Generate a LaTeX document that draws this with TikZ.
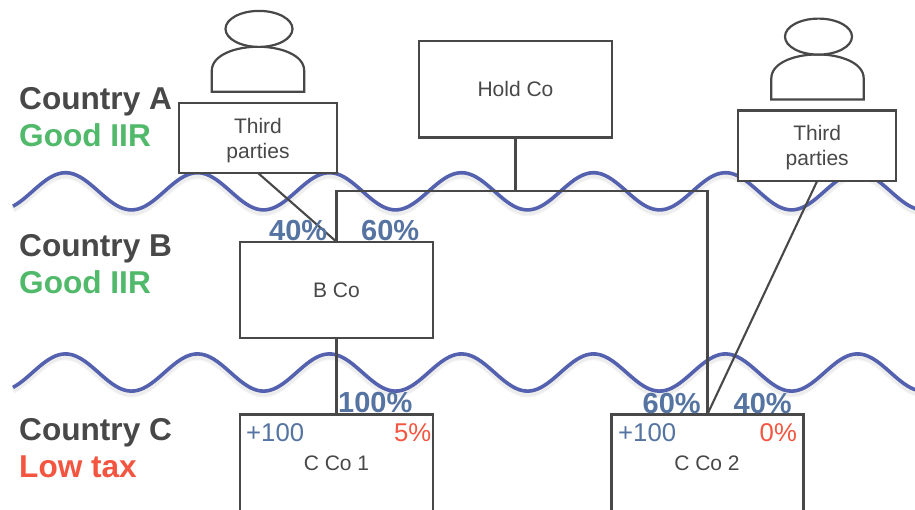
\documentclass[tikz,border=0pt]{standalone}
\usepackage{fontspec}
\setmainfont{Liberation Sans}
\definecolor{ink}{HTML}{484848}
\definecolor{wave}{HTML}{5361AE}
\definecolor{pct}{HTML}{5674A2}
\definecolor{good}{HTML}{50B96A}
\definecolor{low}{HTML}{F45540}
\tikzset{
  boxnode/.style={draw=ink,line width=2.4pt,fill=white,inner sep=0pt,outer sep=0pt,
    text=ink,align=center,text depth=0pt,font=\fontsize{21}{25}\selectfont},
  conn/.style={draw=ink,line width=2.6pt},
  thin conn/.style={draw=ink,line width=2.1pt},
  wavy/.style={draw=wave,line width=3.6pt},
  waveshadow/.style={draw=black,opacity=.035},
  region/.style={anchor=base west,inner sep=0pt,font=\bfseries\fontsize{31.6}{36}\selectfont},
  share/.style={anchor=base west,inner sep=0pt,text=pct,font=\bfseries\fontsize{29}{32}\selectfont},
  amount/.style={anchor=base west,inner sep=0pt,font=\fontsize{25.7}{30}\selectfont},
  cname/.style={anchor=base,inner sep=0pt,text=ink,font=\fontsize{21}{25}\selectfont},
  person/.pic={
    \draw[draw=ink,line width=2.2pt,fill=white] (-46.2,45) -- (-46.2,24) .. controls (-46.2,8) and (-22,0) .. (0,0)
      .. controls (22,0) and (46.2,8) .. (46.2,24) -- (46.2,45) -- cycle;
    \draw[draw=ink,line width=2.2pt,fill=white] (1,-17.8) ellipse [x radius=33.5,y radius=18];
  }
}
\newcommand{\wavepath}[2]{%
  \draw[#2] plot[domain=13:920,samples=300,smooth] (\x,{#1-18.6*cos((\x-65.5)/132*360)});}
\begin{document}
\begin{tikzpicture}[x=1pt,y=-1pt]
\useasboundingbox (0,0) rectangle (915,509);
\clip (0,0) rectangle (915,509);
\fill[white] (0,0) rectangle (915,509);
% waves
\foreach \c in {191.3,372.5}{
  \wavepath{\c+3}{waveshadow,line width=7pt}
  \wavepath{\c+3}{waveshadow,line width=5pt}
  \wavepath{\c}{wavy}
}
% people
\pic at (258,46.7) {person};
\pic at (817.5,54.4) {person};
% boxes
\node[boxnode,minimum width=158pt,minimum height=70pt] (t1) at (258,138) {Third\\parties};
\node[boxnode,minimum width=158pt,minimum height=70.5pt] (t2) at (817.2,145.7) {Third\\parties};
\node[boxnode,minimum width=193pt,minimum height=96.5pt] (h) at (515.5,89.3) {Hold Co};
\node[boxnode,minimum width=193pt,minimum height=96.5pt] (b) at (336.5,290) {B Co};
\node[boxnode,minimum width=193pt,minimum height=130pt] (c1) at (336.5,479.5) {};
\node[boxnode,minimum width=192pt,minimum height=130pt] (c2) at (707.3,479.5) {};
% connectors
\coordinate (j) at (h.south |- 0,191);
\draw[conn] (h.south) -- (j);
\draw[conn] (j) -| (b.north);
\draw[conn] (j) -| (c2.north);
\draw[conn] (b.south) -- (c1.north);
\draw[thin conn] (t1.south) -- (b.north);
\draw[thin conn] (t2.south) -- (c2.north);
% region labels
\node[region,text=ink] (ca) at (19,109.3) {Country A};
\node[region,text=good] (ga) at (19,146) {Good IIR};
\node[region,text=ink] (cb) at (19,256.5) {Country B};
\node[region,text=good] (gb) at (19,293.7) {Good IIR};
\node[region,text=ink] (cc) at (19,440.3) {Country C};
\node[region,text=low] (lc) at (19,477.3) {Low tax};
% shares
\node[share] (s1) at (269,240) {40\%};
\node[share] (s2) at (361,240) {60\%};
\node[share] (s3) at (338,412) {100\%};
\node[share] (s4) at (642.5,413) {60\%};
\node[share] (s5) at (733.5,413) {40\%};
% amounts
\node[amount,text=pct] (a1) at (246,441.5) {+100};
\node[amount,text=low] (r1) at (394,441.5) {5\%};
\node[amount,text=pct] (a2) at (618,441.5) {+100};
\node[amount,text=low] (r2) at (759.5,441.5) {0\%};
\node[cname] (n1) at (336.5,470) {C Co 1};
\node[cname] (n2) at (707,470) {C Co 2};
\end{tikzpicture}
\end{document}
